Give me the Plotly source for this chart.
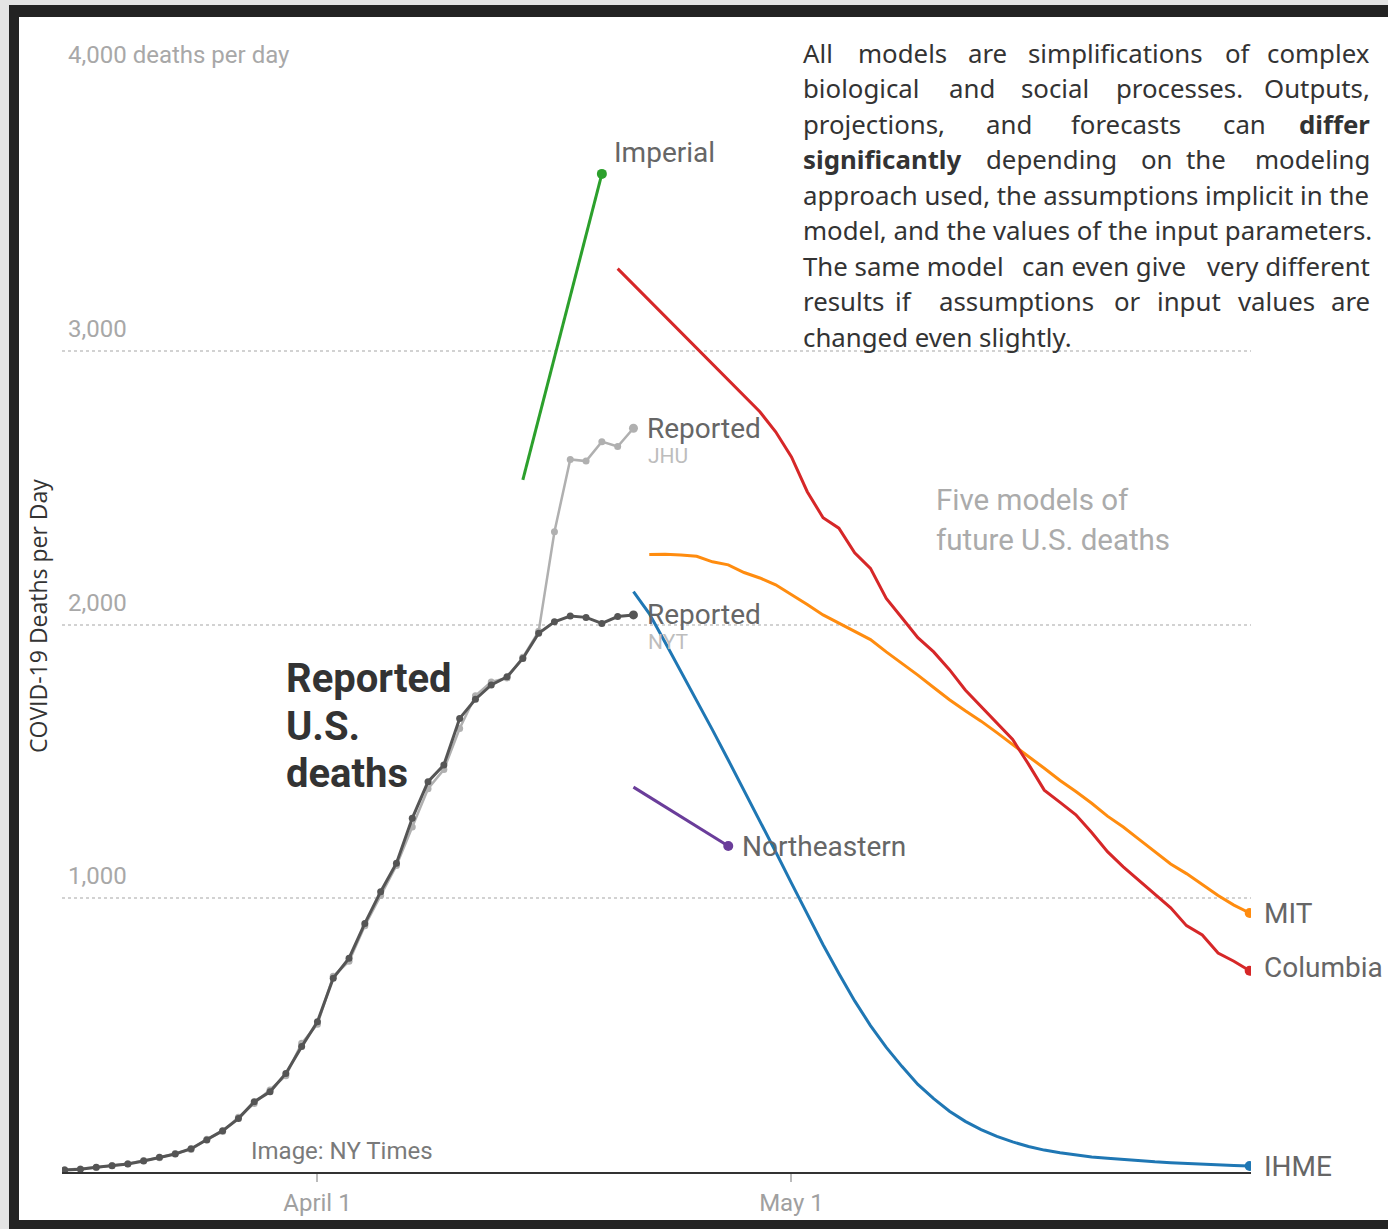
import pandas as pd
import plotly.graph_objects as go

# ---------------- data ----------------
reported_dates = pd.date_range("2020-03-16", "2020-04-21").strftime("%Y-%m-%d").tolist()
nyt_deaths = [7, 10, 17, 23, 29, 40, 54, 66, 85, 117, 151, 195, 257, 293, 360, 458, 549,
              708, 781, 908, 1024, 1128, 1292, 1426, 1487, 1657, 1727, 1779, 1809, 1876,
              1968, 2010, 2031, 2026, 2004, 2029, 2035]
jhu_deaths = [8, 11, 16, 24, 30, 42, 52, 68, 82, 120, 148, 200, 250, 300, 352, 470, 540,
              715, 770, 900, 1010, 1120, 1260, 1400, 1470, 1620, 1740, 1790, 1805, 1880,
              1975, 2339, 2603, 2597, 2668, 2650, 2717]

imperial_dates = ["2020-04-14", "2020-04-19"]
imperial_deaths = [2528, 3646]

columbia_dates = pd.date_range("2020-04-20", "2020-05-30").strftime("%Y-%m-%d").tolist()
columbia_deaths = [3300, 3242, 3184, 3126, 3068, 3010, 2952, 2894, 2836, 2777, 2704,
                   2612, 2485, 2390, 2352, 2262, 2205, 2095, 2024, 1952, 1900, 1835, 1761,
                   1700, 1640, 1580, 1490, 1395, 1350, 1305, 1240, 1170, 1115, 1065, 1015,
                   965, 900, 866, 800, 770, 735]

mit_dates = pd.date_range("2020-04-22", "2020-05-30").strftime("%Y-%m-%d").tolist()
mit_deaths = [2256, 2257, 2254, 2249, 2229, 2218, 2190, 2170, 2145,
              2110, 2073, 2035, 2005, 1975, 1945, 1900, 1858, 1815, 1770, 1725, 1685,
              1647, 1605, 1560, 1518, 1475, 1430, 1390, 1347, 1300, 1260, 1215, 1170,
              1125, 1090, 1050, 1010, 975, 946]

ihme_dates = pd.date_range("2020-04-21", "2020-05-30").strftime("%Y-%m-%d").tolist()
ihme_deaths = [2120, 2040, 1935, 1830, 1725, 1615, 1505, 1395, 1285, 1170,
               1055, 940, 830, 725, 625, 535, 455, 385, 320, 268, 222, 185, 155, 130,
               110, 93, 80, 70, 62, 55, 50, 45, 41, 37, 34, 31, 28, 26, 24, 22]

northeastern_dates = pd.date_range("2020-04-21", "2020-04-27").strftime("%Y-%m-%d").tolist()
northeastern_deaths = [1406, 1370, 1335, 1300, 1262, 1226, 1191]

y_ticks = [1000, 2000, 3000, 4000]
y_tick_labels = ["1,000", "2,000", "3,000", "4,000 deaths per day"]
x_ticks = ["2020-04-01", "2020-05-01"]
x_tick_labels = ["April 1", "May 1"]

# ---------------- layout geometry ----------------
W, H = 1388, 1229
ML, MR, MT, MB = 62, 137, 77, 57
PW, PH = W - ML - MR, H - MT - MB


def px(x):
    return (x - ML) / PW


def py(y):
    return (H - MB - y) / PH


GREY_DARK = "#555555"
GREY_LIGHT = "#b0b0b0"
C_IMPERIAL = "#2ca02c"
C_COLUMBIA = "#d62728"
C_MIT = "#ff8c0f"
C_IHME = "#1f77b4"
C_NE = "#6a3d9a"

fig = go.Figure()


def model_trace(xs, ys, color):
    fig.add_trace(go.Scatter(x=xs, y=ys, mode="lines", line=dict(color=color, width=3),
                             hoverinfo="skip", showlegend=False))


def end_dot(xs, ys, color, size=10):
    fig.add_trace(go.Scatter(x=[xs[-1]], y=[ys[-1]], mode="markers",
                             marker=dict(color=color, size=size), hoverinfo="skip",
                             showlegend=False))


# reported series
fig.add_trace(go.Scatter(x=reported_dates, y=jhu_deaths, mode="lines+markers",
                         line=dict(color=GREY_LIGHT, width=2.5),
                         marker=dict(color=GREY_LIGHT, size=7), showlegend=False))
fig.add_trace(go.Scatter(x=reported_dates, y=nyt_deaths, mode="lines+markers",
                         line=dict(color=GREY_DARK, width=3),
                         marker=dict(color=GREY_DARK, size=7), showlegend=False))
end_dot(reported_dates, jhu_deaths, GREY_LIGHT, 9)
end_dot(reported_dates, nyt_deaths, GREY_DARK, 9)

model_trace(imperial_dates, imperial_deaths, C_IMPERIAL)
end_dot(imperial_dates, imperial_deaths, C_IMPERIAL)
model_trace(northeastern_dates, northeastern_deaths, C_NE)
end_dot(northeastern_dates, northeastern_deaths, C_NE)
model_trace(ihme_dates, ihme_deaths, C_IHME)
end_dot(ihme_dates, ihme_deaths, C_IHME)
model_trace(mit_dates, mit_deaths, C_MIT)
end_dot(mit_dates, mit_deaths, C_MIT)
model_trace(columbia_dates, columbia_deaths, C_COLUMBIA)
end_dot(columbia_dates, columbia_deaths, C_COLUMBIA)

ann = []
LABEL_FONT = "Roboto, Arial, sans-serif"


def label(text, x, y, size, color, xanchor="left", family=LABEL_FONT, **kw):
    ann.append(dict(text=text, x=px(x), y=py(y), xref="paper", yref="paper",
                    xanchor=xanchor, yanchor="middle", showarrow=False,
                    font=dict(family=family, size=size, color=color), **kw))


# y tick labels above gridlines
for v, t in zip(y_ticks, y_tick_labels):
    ann.append(dict(text=t, x=px(66), y=v, xref="paper", yref="y", xanchor="left",
                    yanchor="bottom", yshift=6, showarrow=False,
                    font=dict(family=LABEL_FONT, size=24, color="#a8a8a8")))

# series labels
label("Imperial", 612, 153, 28, "#666666")
label("Reported", 645, 428, 28, "#666666")
label("JHU", 646, 456, 21, "#bdbdbd")
label("Reported", 645, 614, 28, "#666666")
label("NYT", 646, 642, 21, "#bdbdbd")
label("Northeastern", 740, 846, 28, "#666666")
label("MIT", 1262, 913, 28, "#666666")
label("Columbia", 1262, 967, 28, "#666666")
label("IHME", 1262, 1166, 28, "#666666")
label("Five models of", 934, 500, 29.5, "#ababab")
label("future U.S. deaths", 934, 540, 29.5, "#ababab")
label("<b>Reported</b>", 284, 678, 40, "#333333")
label("<b>U.S.</b>", 284, 726, 40, "#333333")
label("<b>deaths</b>", 284, 773, 40, "#333333")
label("Image: NY Times", 249, 1151, 24, "#7a7a7a")

# y axis title
ann.append(dict(text="COVID-19 Deaths per Day", x=px(38), y=py(616), xref="paper",
                yref="paper", textangle=-90, showarrow=False, xanchor="center",
                yanchor="middle",
                font=dict(family="Open Sans, Noto Sans, sans-serif", size=23,
                          color="#333333")))

# paragraph (justified lines emulated by chunks)
PFONT = "Noto Sans, Open Sans, sans-serif"
PSIZE = 25.8
PCOL = "#333333"
LEFT = 801
RIGHT = 1372
para = [
    (53, [("All", LEFT, "left"), ("models", 856, "left"), ("are", 966, "left"),
          ("simplifications", 1026, "left"), ("of", 1223, "left"), ("complex", RIGHT, "right")]),
    (88, [("biological", LEFT, "left"), ("and", 947, "left"), ("social", 1019, "left"),
          ("processes.", 1114, "left"), ("Outputs,", RIGHT, "right")]),
    (124, [("projections,", LEFT, "left"), ("and", 984, "left"), ("forecasts", 1069, "left"),
           ("can", 1221, "left"), ("<b>differ</b>", RIGHT, "right")]),
    (159, [("<b>significantly</b>", LEFT, "left"), ("depending", 984, "left"),
           ("on", 1139, "left"), ("the", 1184, "left"), ("modeling", RIGHT, "right")]),
    (195, [("approach used, the assumptions implicit in the", LEFT, "left")]),
    (230, [("model, and the values of the input parameters.", LEFT, "left")]),
    (266, [("The same model", LEFT, "left"), ("can even give", 1104, "center"),
           ("very different", RIGHT, "right")]),
    (301, [("results", LEFT, "left"), ("if", 893, "left"), ("assumptions", 937, "left"),
           ("or", 1112, "left"), ("input", 1155, "left"), ("values", 1236, "left"),
           ("are", RIGHT, "right")]),
    (337, [("changed even slightly.", LEFT, "left")]),
]
for yy, words in para:
    for w, xx, anchor in words:
        label(w, xx, yy, PSIZE, PCOL, xanchor=anchor, family=PFONT)

# frame
shapes = []


def rect(x0, y0, x1, y1, color):
    shapes.append(dict(type="rect", xref="paper", yref="paper", x0=px(x0), x1=px(x1),
                       y0=py(y1), y1=py(y0), fillcolor=color, line=dict(width=0),
                       layer="above"))


rect(0, 0, 9, H, "#e4e4e4")
rect(0, 0, W, 5, "#e4e4e4")
rect(9, 5, 19, H, "#232323")
rect(9, 5, W, 17, "#232323")
rect(9, 1220, W, H, "#232323")

fig.update_layout(
    width=W, height=H,
    margin=dict(l=ML, r=MR, t=MT, b=MB),
    paper_bgcolor="white", plot_bgcolor="white",
    showlegend=False,
    annotations=ann, shapes=shapes,
    xaxis=dict(type="date", range=["2020-03-15 20:00", "2020-05-30 02:00"],
               showgrid=False, zeroline=False, showline=True, linecolor="#333333",
               linewidth=2, ticks="outside", ticklen=8, tickcolor="#bbbbbb",
               tickwidth=1.5, tickvals=x_ticks, ticktext=x_tick_labels,
               tickfont=dict(family=LABEL_FONT, size=24, color="#a0a0a0")),
    yaxis=dict(range=[0, 4000], showgrid=True, gridcolor="#d2d2d2", griddash="dot",
               gridwidth=1.5, tickvals=y_ticks, showticklabels=False, zeroline=False,
               showline=False),
)

fig.write_html("out.html", config={"displayModeBar": False},
               post_script="document.body.style.margin='0px';"
                           "document.body.style.overflow='hidden';")
